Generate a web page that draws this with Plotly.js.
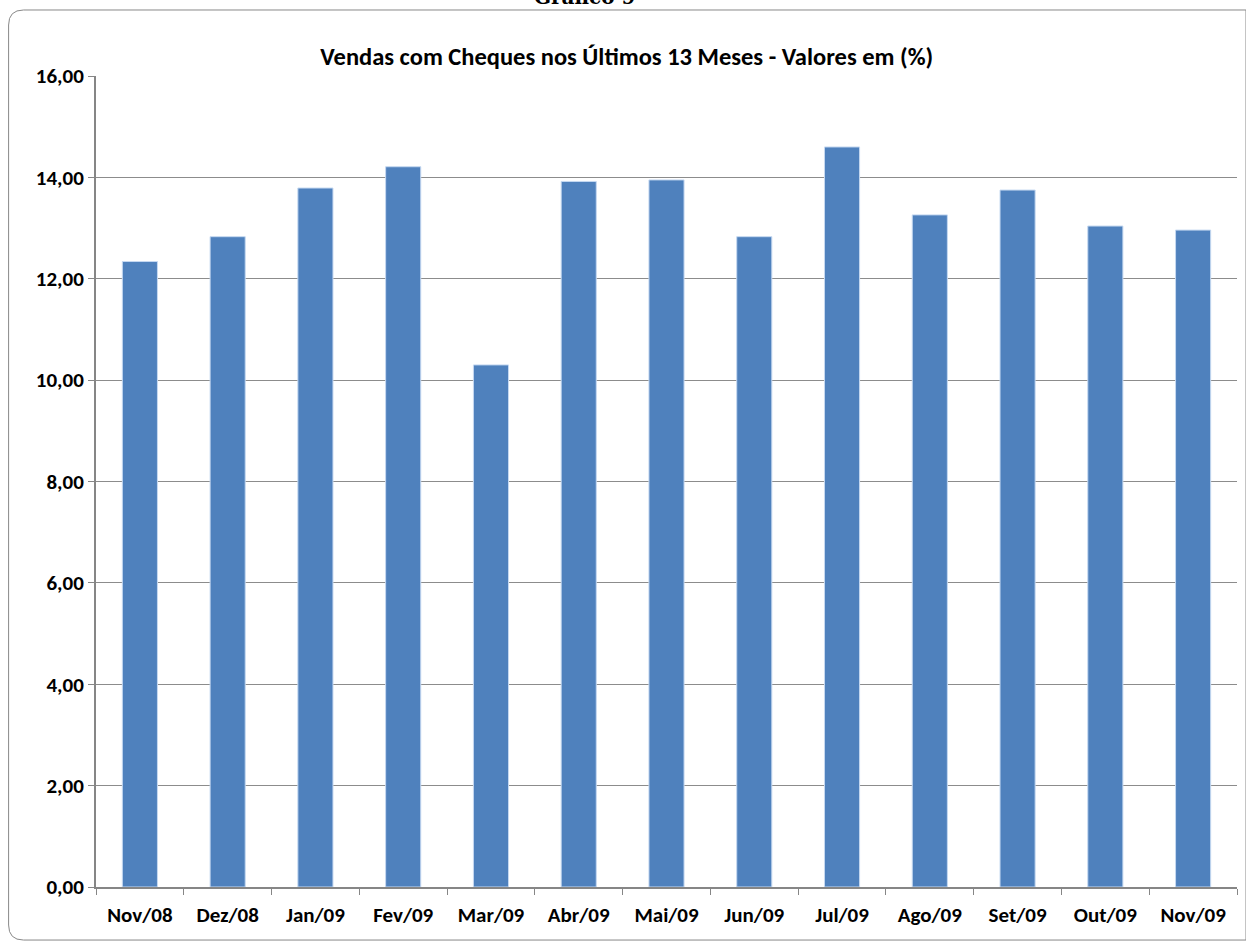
<!DOCTYPE html>
<html>
<head>
<meta charset="utf-8">
<script src="https://cdn.plot.ly/plotly-3.0.1.min.js"></script>
<style>html,body{margin:0;padding:0;background:#fff;}</style>
</head>
<body>
<div id="chart" style="width:1246px;height:946px;"></div>
<script>
const months = ["Nov/08","Dez/08","Jan/09","Fev/09","Mar/09","Abr/09","Mai/09","Jun/09","Jul/09","Ago/09","Set/09","Out/09","Nov/09"];
const values = [12.34, 12.83, 13.79, 14.21, 10.30, 13.92, 13.95, 12.83, 14.60, 13.26, 13.75, 13.04, 12.96];
const yTicks = [0,2,4,6,8,10,12,14,16];
const yTickText = yTicks.map(v => v.toFixed(2).replace('.', ','));

const font = "Carlito, Calibri, Lato, sans-serif";

const trace = {
  type: 'bar',
  x: months,
  y: values,
  marker: {color: '#4F81BD', line: {color: '#C6D9F1', width: 1}},
  hoverinfo: 'x+y'
};

const layout = {
  width: 1246, height: 946,
  margin: {l: 96, r: 9, t: 76, b: 59},
  paper_bgcolor: '#fff', plot_bgcolor: '#fff',
  showlegend: false,
  bargap: 0.6,
  title: {text: '<b>Vendas com Cheques nos Últimos 13 Meses - Valores em (%)</b>',
          font: {family: font, size: 24.5, color: '#000'},
          x: 0.503, xanchor: 'center', y: 0.94, yanchor: 'middle'},
  xaxis: {
    type: 'category', tickson: 'boundaries', ticks: 'outside', ticklen: 6, tickcolor: '#868686',
    showline: true, linecolor: '#868686', linewidth: 2, showgrid: false,
    tickfont: {family: font, size: 21, color: '#000'}, ticklabelstandoff: 8,
    tickprefix: '<b>', ticksuffix: '</b>'
  },
  yaxis: {
    range: [0, 16], tickvals: yTicks, ticktext: yTickText.map(t => '<b>' + t + '</b>'),
    ticks: 'outside', ticklen: 6, tickcolor: '#868686',
    showline: true, linecolor: '#868686', linewidth: 2,
    showgrid: true, gridcolor: '#8C8C8C', gridwidth: 1, zeroline: false,
    tickfont: {family: font, size: 21, color: '#000'}
  },
  shapes: [{
    type: 'path', xref: 'paper', yref: 'paper',
    path: 'M -0.0766,1.0629 Q -0.0766,1.0814 -0.0635,1.0814 L 1.0079,1.0814 L 1.0079,-0.0654 L -0.0635,-0.0654 Q -0.0766,-0.0654 -0.0766,-0.0469 Z',
    line: {color: '#888', width: 1}, fillcolor: 'rgba(0,0,0,0)', layer: 'below'
  }],
  annotations: [{
    text: '<b>Gráfico 9</b>', xref: 'paper', yref: 'paper', x: 0.429, y: 1.0974,
    xanchor: 'center', yanchor: 'middle', showarrow: false,
    font: {family: "'DejaVu Serif', 'Liberation Serif', serif", size: 20, color: '#000'}
  }]
};

Plotly.newPlot('chart', [trace], layout, {displayModeBar: false, staticPlot: true});
</script>
</body>
</html>
